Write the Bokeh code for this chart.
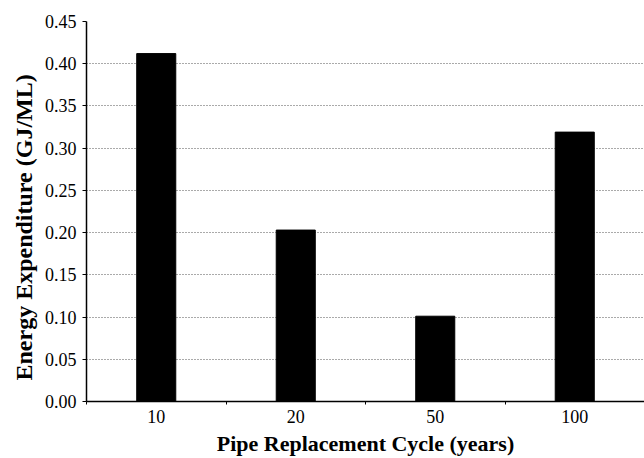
from bokeh.plotting import figure
from bokeh.models import FixedTicker, NumeralTickFormatter, Range1d, Title
from bokeh.embed import file_html
from bokeh.resources import INLINE

categories = ["10", "20", "50", "100"]
values = [0.412, 0.203, 0.101, 0.319]
y_ticks = [0.0, 0.05, 0.10, 0.15, 0.20, 0.25, 0.30, 0.35, 0.40, 0.45]
x_title = "Pipe Replacement Cycle (years)"
y_title = "Energy Expenditure (GJ/ML)"

xs = [i + 0.5 for i in range(len(categories))]
bounds = list(range(len(categories) + 1))

p = figure(width=644, height=458, output_backend="svg", toolbar_location=None,
           x_range=Range1d(0, len(categories)), y_range=Range1d(0, 0.45),
           min_border_top=21, min_border_right=0, min_border_left=86, min_border_bottom=55)
p.outline_line_color = None
p.background_fill_color = "white"
p.border_fill_color = "white"

p.vbar(x=xs, top=values, width=0.28, fill_color="black", line_color="black")

FONT = "Liberation Serif"

p.xaxis.ticker = FixedTicker(ticks=xs, minor_ticks=bounds)
p.xaxis.major_label_overrides = {x: c for x, c in zip(xs, categories)}
p.xaxis.major_tick_out = 0
p.xaxis.major_tick_in = 0
p.xaxis.minor_tick_out = 3
p.xaxis.minor_tick_in = 0
p.xaxis.axis_label = x_title

p.yaxis.ticker = FixedTicker(ticks=y_ticks)
p.yaxis.formatter = NumeralTickFormatter(format="0.00")
p.yaxis.major_tick_out = 4
p.yaxis.major_tick_in = 0
p.yaxis.minor_tick_out = 0

for ax in [p.xaxis[0], p.yaxis[0]]:
    ax.axis_line_color = "black"
    ax.axis_line_width = 1.5
    ax.major_tick_line_color = "black"
    ax.minor_tick_line_color = "black"
    ax.major_label_text_font = FONT
    ax.major_label_text_font_size = "18px"
    ax.major_label_text_color = "black"
    ax.axis_label_text_font = FONT
    ax.axis_label_text_font_style = "bold"
    ax.axis_label_text_color = "black"

p.xaxis.axis_label_text_font_size = "22px"
p.xaxis.axis_label_standoff = 5
p.xaxis.major_label_standoff = 5
p.yaxis.major_label_standoff = 6

ytitle = Title(text=y_title, align="left", offset=21,
               text_font=FONT, text_font_style="bold", text_font_size="24px",
               text_color="black", standoff=10)
p.add_layout(ytitle, "left")

p.xgrid.grid_line_color = None
p.ygrid.grid_line_color = "#555555"
p.ygrid.grid_line_dash = "1 2"
p.ygrid.grid_line_width = 1

open("out.html", "w").write(file_html(p, INLINE))
